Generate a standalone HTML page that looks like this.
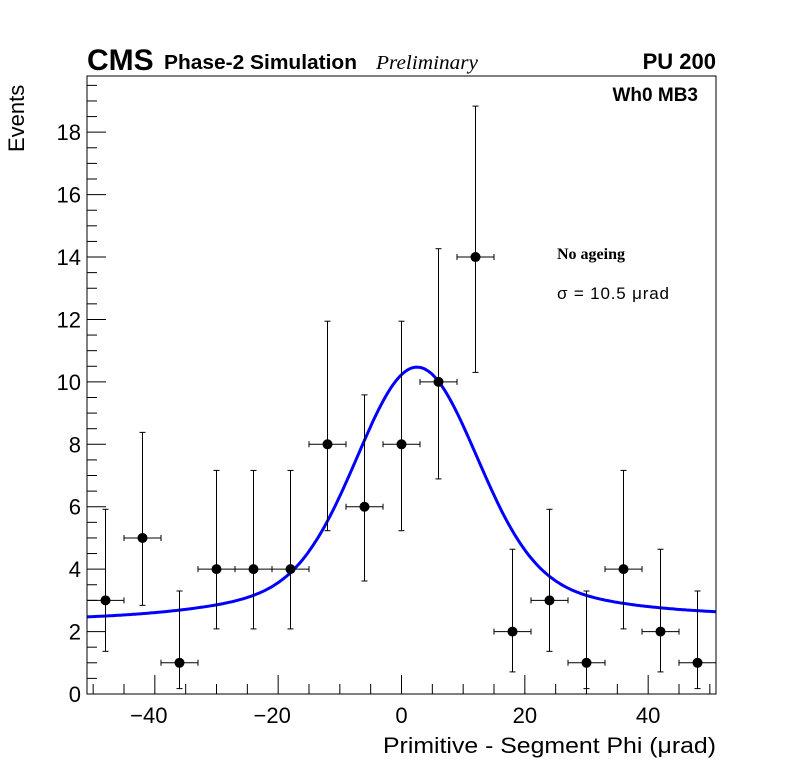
<!DOCTYPE html>
<html><head><meta charset="utf-8"><style>
html,body{margin:0;padding:0;background:#fff;}
svg{display:block;font-family:"Liberation Sans",sans-serif;}
</style></head><body>
<svg id="chart" width="796" height="772" viewBox="0 0 796 772" xmlns="http://www.w3.org/2000/svg">
<rect x="0" y="0" width="796" height="772" fill="#fff"/>
<g id="axes"></g>
<path id="fit" fill="none" stroke="#0000ff" stroke-width="3"/>
<g id="pts"></g>
<rect x="87" y="76" width="629" height="618" fill="none" stroke="#000" stroke-width="1"/>
<text x="87" y="70" font-size="30" font-weight="bold">CMS</text>
<text x="164" y="69" font-size="20" font-weight="bold" textLength="193" lengthAdjust="spacingAndGlyphs">Phase-2 Simulation</text>
<text x="376" y="69" font-size="20" font-style="italic" font-family="Liberation Serif, serif" textLength="102" lengthAdjust="spacingAndGlyphs">Preliminary</text>
<text x="716" y="69" font-size="22" font-weight="bold" text-anchor="end">PU 200</text>
<text x="698" y="101" font-size="19" font-weight="bold" text-anchor="end">Wh0 MB3</text>
<text x="557" y="259" font-size="16" font-weight="bold" font-family="Liberation Serif, serif">No ageing</text>
<text x="557" y="299" font-size="17" textLength="112" lengthAdjust="spacing">σ = 10.5  μrad</text>
<text transform="translate(24,152) rotate(-90)" font-size="22">Events</text>
<text x="716" y="753" font-size="22" text-anchor="end" textLength="333" lengthAdjust="spacingAndGlyphs">Primitive - Segment Phi (μrad)</text>
</svg>
<script>
const binCenters=[-48,-42,-36,-30,-24,-18,-12,-6,0,6,12,18,24,30,36,42,48];
const counts=[3,5,1,4,4,4,8,6,8,10,14,2,3,1,4,2,1];
const binHalfWidth=3;
const poissonN=[0,1,2,3,4,5,6,7,8,9,10,11,12,13,14];
const poissonLow=[0,0.173,0.708,1.367,2.086,2.840,3.620,4.419,5.232,6.057,6.891,7.734,8.585,9.441,10.304];
const poissonHigh=[1.841,3.300,4.638,5.918,7.163,8.382,9.584,10.770,11.944,13.108,14.267,15.406,16.546,17.680,18.835];
const fitAmp=[6.8], fitMean=[2.5], fitSigma=[9.5];
const fitWideAmp=[1.2], fitWideSigma=[22];
const fitBase=[2.47], fitSlope=[0.0012];
const xTicks=[-40,-20,0,20,40];
const yTicks=[0,2,4,6,8,10,12,14,16,18];
const X0=87,X1=716,Y0=694,Y1=76,xmin=-51,xmax=51,ymin=0,ymax=19.8;
const sx=v=>X0+(v-xmin)/(xmax-xmin)*(X1-X0);
const sy=v=>Y0-(v-ymin)/(ymax-ymin)*(Y0-Y1);
const NS="http://www.w3.org/2000/svg";
function mk(tag,attrs,parent){const e=document.createElementNS(NS,tag);for(const k in attrs)e.setAttribute(k,attrs[k]);parent.appendChild(e);return e;}
const axes=document.getElementById('axes');
for(let v=-50;v<=50;v+=5){
  const major=v%20===0;
  const t=mk('line',{x1:sx(v),x2:sx(v),y1:Y0,y2:Y0-(major?19:10),stroke:'#000','stroke-width':1},axes);
  
  
}
xTicks.forEach(v=>{
  const t=mk('text',{x:sx(v)-(v<0?6:0),y:Y0+29,'font-size':22,'text-anchor':'middle'},axes);
  t.textContent=(v<0?'\u2212':'')+Math.abs(v);
  
  
});
for(let v=0;v<=19.5;v+=0.5){
  const major=Math.abs(v%2)<1e-9;
  const t=mk('line',{x1:X0,x2:X0+(major?19:10),y1:sy(v),y2:sy(v),stroke:'#000','stroke-width':1},axes);
  
  
}
yTicks.forEach(v=>{
  const t=mk('text',{x:X0-6,y:sy(v)+8,'font-size':22,'text-anchor':'end'},axes);
  t.textContent=v;
  
  
});
let d='';
for(let i=0;i<=300;i++){
  const x=xmin+(xmax-xmin)*i/300;
  const dx=x-fitMean[0];
  const y=fitBase[0]+fitSlope[0]*x+fitAmp[0]*Math.exp(-dx*dx/(2*fitSigma[0]*fitSigma[0]))+fitWideAmp[0]*Math.exp(-dx*dx/(2*fitWideSigma[0]*fitWideSigma[0]));
  d+=(i?'L':'M')+sx(x).toFixed(1)+','+sy(y).toFixed(1);
}
document.getElementById('fit').setAttribute('d',d);
const pts=document.getElementById('pts');
binCenters.forEach((c,i)=>{
  const n=counts[i];
  const idx=poissonN.indexOf(n);
  const lo=poissonLow[idx], hi=poissonHigh[idx];
  const g=mk('g',{},pts);
  
  
  const cx=sx(c), cy=sy(n);
  mk('line',{x1:sx(c-binHalfWidth),x2:sx(c+binHalfWidth),y1:cy,y2:cy,stroke:'#000','stroke-width':1},g);
  mk('line',{x1:cx,x2:cx,y1:sy(lo),y2:sy(hi),stroke:'#000','stroke-width':1},g);
  mk('line',{x1:sx(c-binHalfWidth),x2:sx(c-binHalfWidth),y1:cy-3,y2:cy+3,stroke:'#000','stroke-width':1},g);
  mk('line',{x1:sx(c+binHalfWidth),x2:sx(c+binHalfWidth),y1:cy-3,y2:cy+3,stroke:'#000','stroke-width':1},g);
  mk('line',{x1:cx-3,x2:cx+3,y1:sy(lo),y2:sy(lo),stroke:'#000','stroke-width':1},g);
  mk('line',{x1:cx-3,x2:cx+3,y1:sy(hi),y2:sy(hi),stroke:'#000','stroke-width':1},g);
  mk('circle',{cx:cx,cy:cy,r:5,fill:'#000'},g);
});
</script>
</body></html>
